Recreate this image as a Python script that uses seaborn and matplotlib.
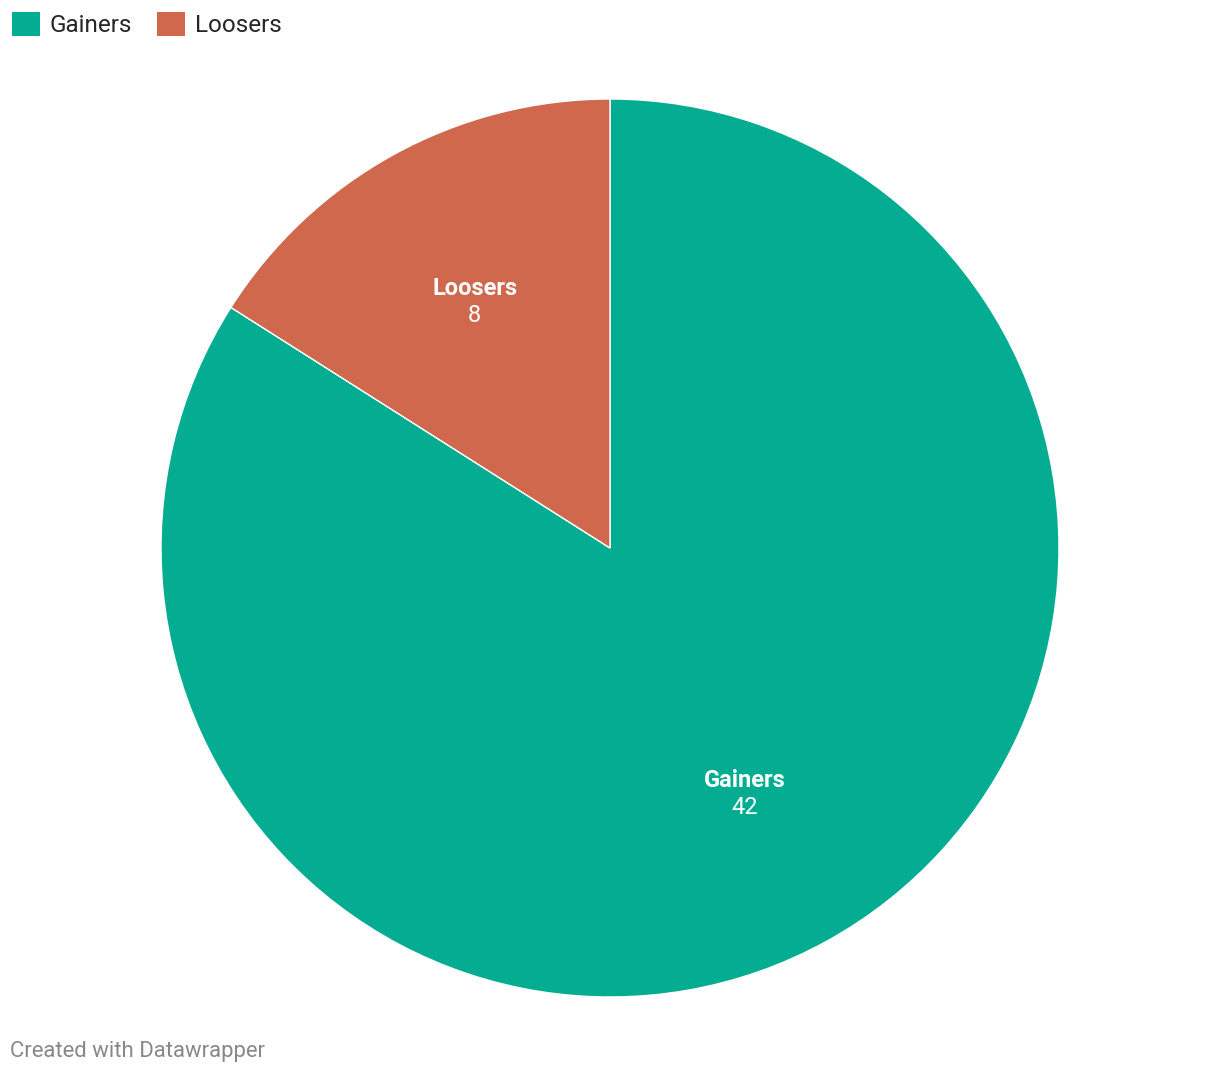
import matplotlib
matplotlib.use("Agg")
import matplotlib.pyplot as plt
import seaborn as sns
import numpy as np

# datos
categories = ["Gainers", "Loosers"]
values = [42, 8]
colors = ["#04ac91", "#cf684d"]

sns.set_theme(style="white")
plt.rcParams["font.family"] = ["Roboto", "DejaVu Sans"]

palette = sns.color_palette(colors)

W, H = 1220, 1074
fig = plt.figure(figsize=(W / 100, H / 100), dpi=100)

# pie centrado en (610, 548) px, radio 449 px
cx, cy, r = 610, 548, 449
ax = fig.add_axes([(cx - r) / W, (H - cy - r) / H, 2 * r / W, 2 * r / H])

wedges, _ = ax.pie(
    values,
    colors=palette,
    startangle=90,
    counterclock=False,
    radius=1,
    wedgeprops=dict(edgecolor="white", linewidth=1),
)
ax.set_xlim(-1, 1)
ax.set_ylim(-1, 1)
ax.set_aspect("equal")
ax.axis("off")

# etiquetas dentro de cada sector
for w, cat, val in zip(wedges, categories, values):
    ang = np.deg2rad((w.theta1 + w.theta2) / 2)
    x, y = 0.625 * np.cos(ang), 0.625 * np.sin(ang)
    ax.annotate(cat, (x, y), xytext=(0, 10), textcoords="offset points",
                ha="center", va="center", color="white",
                fontsize=17, fontweight="bold")
    ax.annotate(str(val), (x, y), xytext=(0, -10), textcoords="offset points",
                ha="center", va="center", color="white", fontsize=17)

# leyenda
fig.legend(
    wedges, categories,
    loc="upper left",
    bbox_to_anchor=(2 / W, 1 - 2 / H),
    ncol=2,
    frameon=False,
    fontsize=17.5,
    handlelength=1.15,
    handleheight=1.15,
    handletextpad=0.42,
    columnspacing=1.0,
    borderaxespad=0,
)
for h in fig.legends[0].legend_handles:
    h.set_edgecolor("none")

fig.text(10 / W, 1 - 1051 / H, "Created with Datawrapper",
         ha="left", va="center", color="#888888", fontsize=15.9)

fig.savefig("out.png", dpi=100)
plt.close(fig)
